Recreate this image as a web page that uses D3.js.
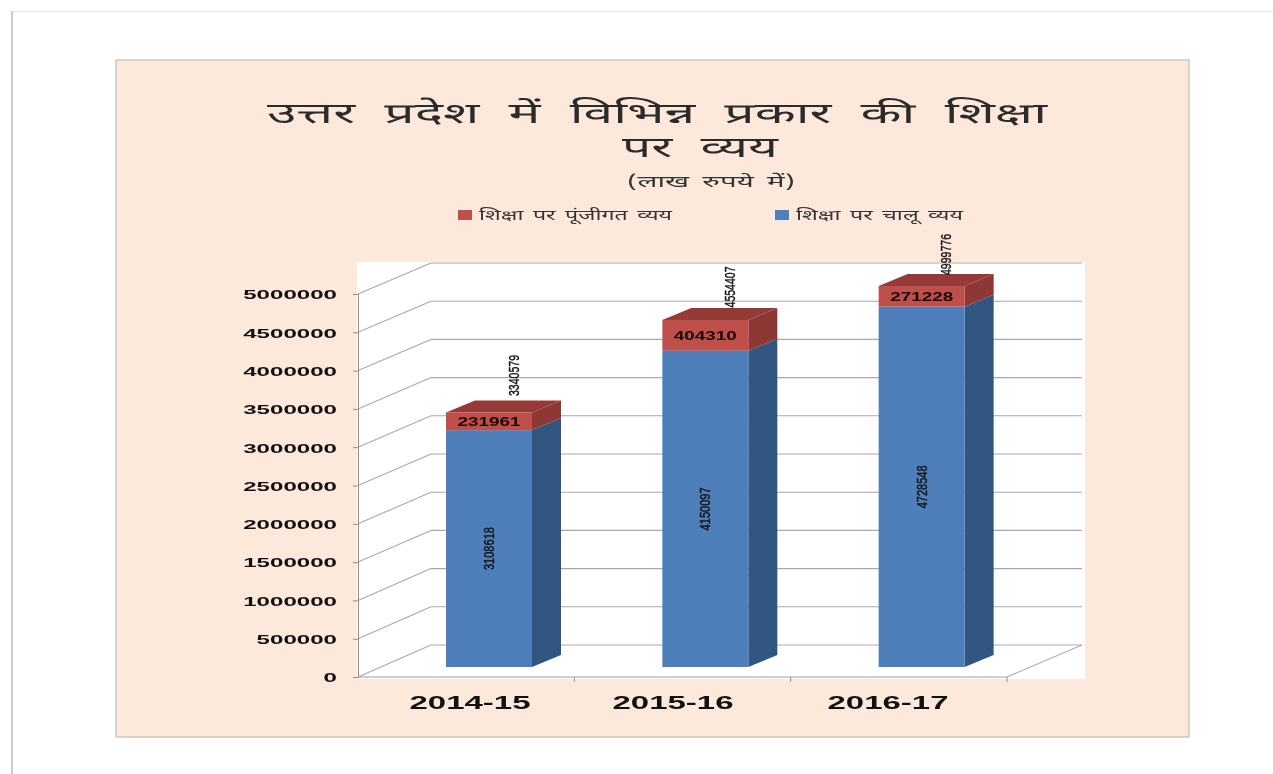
<!DOCTYPE html>
<html><head><meta charset="utf-8">
<style>html,body{margin:0;padding:0;background:#fff}svg{display:block;filter:blur(.5px)}</style>
<script src="https://cdn.jsdelivr.net/npm/d3@7/dist/d3.min.js"></script>
</head><body><svg id="c" width="1273" height="774"></svg>
<script>
const categories = ["2014-15","2015-16","2016-17"];
const currentSpend = [3108618,4150097,4728548];
const capitalSpend = [231961,404310,271228];
const totals = [3340579,4554407,4999776];
const yTicks = [0,500000,1000000,1500000,2000000,2500000,3000000,3500000,4000000,4500000,5000000];
const titleLines = ["उत्तर प्रदेश में विभिन्न प्रकार की शिक्षा","पर व्यय"];
const subtitle = "(लाख रुपये में)";
const legendNames = ["शिक्षा पर पूंजीगत व्यय","शिक्षा पर चालू व्यय"];

const svg = d3.select("#c");
const deva = "'Noto Sans Devanagari','Lohit Devanagari','Noto Serif Devanagari','FreeSerif',serif";
const sans = "'Liberation Sans',Arial,sans-serif";
const narrow = "'Liberation Sans Narrow','Liberation Sans',sans-serif";

// page frame
svg.append("line").attr("x1",12).attr("x2",1273).attr("y1",11.5).attr("y2",11.5).attr("stroke","#e6e6e6");
svg.append("line").attr("x1",12).attr("x2",12).attr("y1",11).attr("y2",774).attr("stroke","#a8a8a8").attr("stroke-width",1.2);
svg.append("rect").attr("x",116).attr("y",60).attr("width",1073).attr("height",677).attr("fill","#fde9db").attr("stroke","#c4bdb6").attr("stroke-width",1.2);
svg.append("rect").attr("x",357).attr("y",262).attr("width",728).attr("height",417).attr("fill","#fff");

// scales
const xBand = d3.scaleBand().domain(categories).range([358,1007]);
const yFront = d3.scaleLinear().domain([0,5000000]).range([677,294]);
const yBack = d3.scaleLinear().domain([0,5000000]).range([645,263]);
const yBar = d3.scaleLinear().domain([0,5000000]).range([667,286]);
const yTotalLabel = d3.scaleLinear().domain([3340579,4999776]).range([396,275]);
const xLabel = d3.scaleOrdinal().domain(categories).range([470,673,888]);
const barInset = 88, barW = 86, depthX = 29, depthY = 12;
const gridCol = "#a9a9a9";

// walls
const g = svg.append("g");
g.selectAll(".back").data(yTicks).join("line").attr("x1",431).attr("x2",1082)
  .attr("y1",d=>yBack(d)).attr("y2",d=>yBack(d)).attr("stroke",gridCol).attr("stroke-width",1.1);
g.selectAll(".side").data(yTicks).join("line").attr("x1",358).attr("x2",431)
  .attr("y1",d=>yFront(d)).attr("y2",d=>yBack(d)).attr("stroke",gridCol).attr("stroke-width",1.1);
g.append("line").attr("x1",1007).attr("x2",1082).attr("y1",yFront(0)).attr("y2",yBack(0)).attr("stroke",gridCol).attr("stroke-width",1.1);

// axes
const yAxis = d3.axisLeft(yFront).tickValues(yTicks).tickSize(5).tickFormat(d3.format("d"));
const ya = svg.append("g").attr("transform","translate(358,0)").call(yAxis);
ya.select(".domain").attr("stroke","#8f8f8f");
ya.selectAll(".tick line").attr("stroke","#8f8f8f");
ya.selectAll("text").attr("x",-21).attr("dy","0.36em").attr("fill","#111").attr("font-family",sans).attr("font-weight","bold").attr("font-size",13.5)
  .attr("textLength",d=>String(d).length*13.4).attr("lengthAdjust","spacingAndGlyphs");
svg.append("line").attr("x1",358).attr("x2",1007).attr("y1",yFront(0)).attr("y2",yFront(0)).attr("stroke","#a0a0a0").attr("stroke-width",1.1);
svg.selectAll(".xt").data(categories).join("line").attr("x1",d=>xBand(d)+xBand.step()).attr("x2",d=>xBand(d)+xBand.step())
  .attr("y1",yFront(0)).attr("y2",yFront(0)+5).attr("stroke","#8f8f8f");
svg.selectAll(".xl").data(categories).join("text").attr("x",d=>xLabel(d)).attr("y",709).attr("text-anchor","middle")
  .attr("font-family",sans).attr("font-weight","bold").attr("font-size",18).attr("fill","#111")
  .attr("textLength",121).attr("lengthAdjust","spacingAndGlyphs").text(d=>d);

// bars
const pts = a => a.map(p=>p.join(",")).join(" ");
const rows = categories.map((c,i)=>({c,cur:currentSpend[i],cap:capitalSpend[i],tot:totals[i]}));
const bars = svg.selectAll(".bar").data(rows).join("g");
const X0 = d=>xBand(d.c)+barInset;
bars.append("polygon").attr("fill","#31567f").attr("points",d=>{const x=X0(d)+barW;return pts([[x,yBar(0)],[x+depthX,yBar(0)-depthY],[x+depthX,yBar(d.cur)-depthY],[x,yBar(d.cur)]]);});
bars.append("polygon").attr("fill","#8e3836").attr("points",d=>{const x=X0(d)+barW,t=yBar(d.cur+d.cap),b=yBar(d.cur);return pts([[x,b],[x+depthX,b-depthY],[x+depthX,t-depthY],[x,t]]);});
bars.append("polygon").attr("fill","#963a38").attr("points",d=>{const x=X0(d),t=yBar(d.cur+d.cap);return pts([[x,t],[x+barW,t],[x+barW+depthX,t-depthY],[x+depthX,t-depthY]]);});
bars.append("rect").attr("x",X0).attr("width",barW).attr("y",d=>yBar(d.cur)).attr("height",d=>yBar(0)-yBar(d.cur)).attr("fill","#4f7fbb");
bars.append("rect").attr("x",X0).attr("width",barW).attr("y",d=>yBar(d.cur+d.cap)).attr("height",d=>yBar(d.cur)-yBar(d.cur+d.cap)).attr("fill","#be4f4b");

// data labels
bars.append("text").attr("text-anchor","middle").attr("font-family",sans).attr("font-weight","bold").attr("font-size",12.5).attr("fill","#1c0808")
  .attr("textLength",63).attr("lengthAdjust","spacingAndGlyphs")
  .attr("x",d=>X0(d)+barW/2).attr("y",d=>(yBar(d.cur)+yBar(d.cur+d.cap))/2+4.5).text(d=>d.cap);
bars.append("text").attr("text-anchor","middle").attr("font-family",narrow).attr("font-size",15).attr("fill","#111").attr("stroke","#111").attr("stroke-width",.4)
  .attr("textLength",43).attr("lengthAdjust","spacingAndGlyphs")
  .attr("transform",d=>`translate(${X0(d)+barW/2+5},${(yBar(0)+yBar(d.cur))/2}) rotate(-90)`).text(d=>d.cur);
bars.append("text").attr("text-anchor","start").attr("font-family",narrow).attr("font-size",15).attr("fill","#111").attr("stroke","#111").attr("stroke-width",.4)
  .attr("textLength",41).attr("lengthAdjust","spacingAndGlyphs")
  .attr("transform",d=>`translate(${X0(d)+barW/2+29.5},${yTotalLabel(d.tot)}) rotate(-90)`).text(d=>d.tot);

// title and legend
const T = (s,x,y,fs,len,ws,col)=>svg.append("text").attr("x",x).attr("y",y).attr("text-anchor","middle").attr("font-family",deva).attr("font-size",fs)
  .attr("fill",col).attr("word-spacing",ws).attr("textLength",len).attr("lengthAdjust","spacingAndGlyphs").text(s);
T(titleLines[0],657,123,28,780,8,"#2b2b2b");
T(titleLines[1],700,157,28,156,8,"#2b2b2b");
T(subtitle,711,187,16,168,3,"#333");
const legendX = d3.scaleOrdinal().domain(legendNames).range([458,775]);
const legendCol = d3.scaleOrdinal().domain(legendNames).range(["#be4f4b","#4f7fbb"]);
const legendLen = d3.scaleOrdinal().domain(legendNames).range([193,167]);
const lg = svg.selectAll(".lg").data(legendNames).join("g");
lg.append("rect").attr("x",d=>legendX(d)).attr("y",210).attr("width",14).attr("height",10).attr("fill",d=>legendCol(d));
lg.append("text").attr("x",d=>legendX(d)+21).attr("y",220).attr("font-family",deva).attr("font-size",13.5).attr("fill","#333").attr("word-spacing",2)
  .attr("textLength",d=>legendLen(d)).attr("lengthAdjust","spacingAndGlyphs").text(d=>d);
</script></body></html>
